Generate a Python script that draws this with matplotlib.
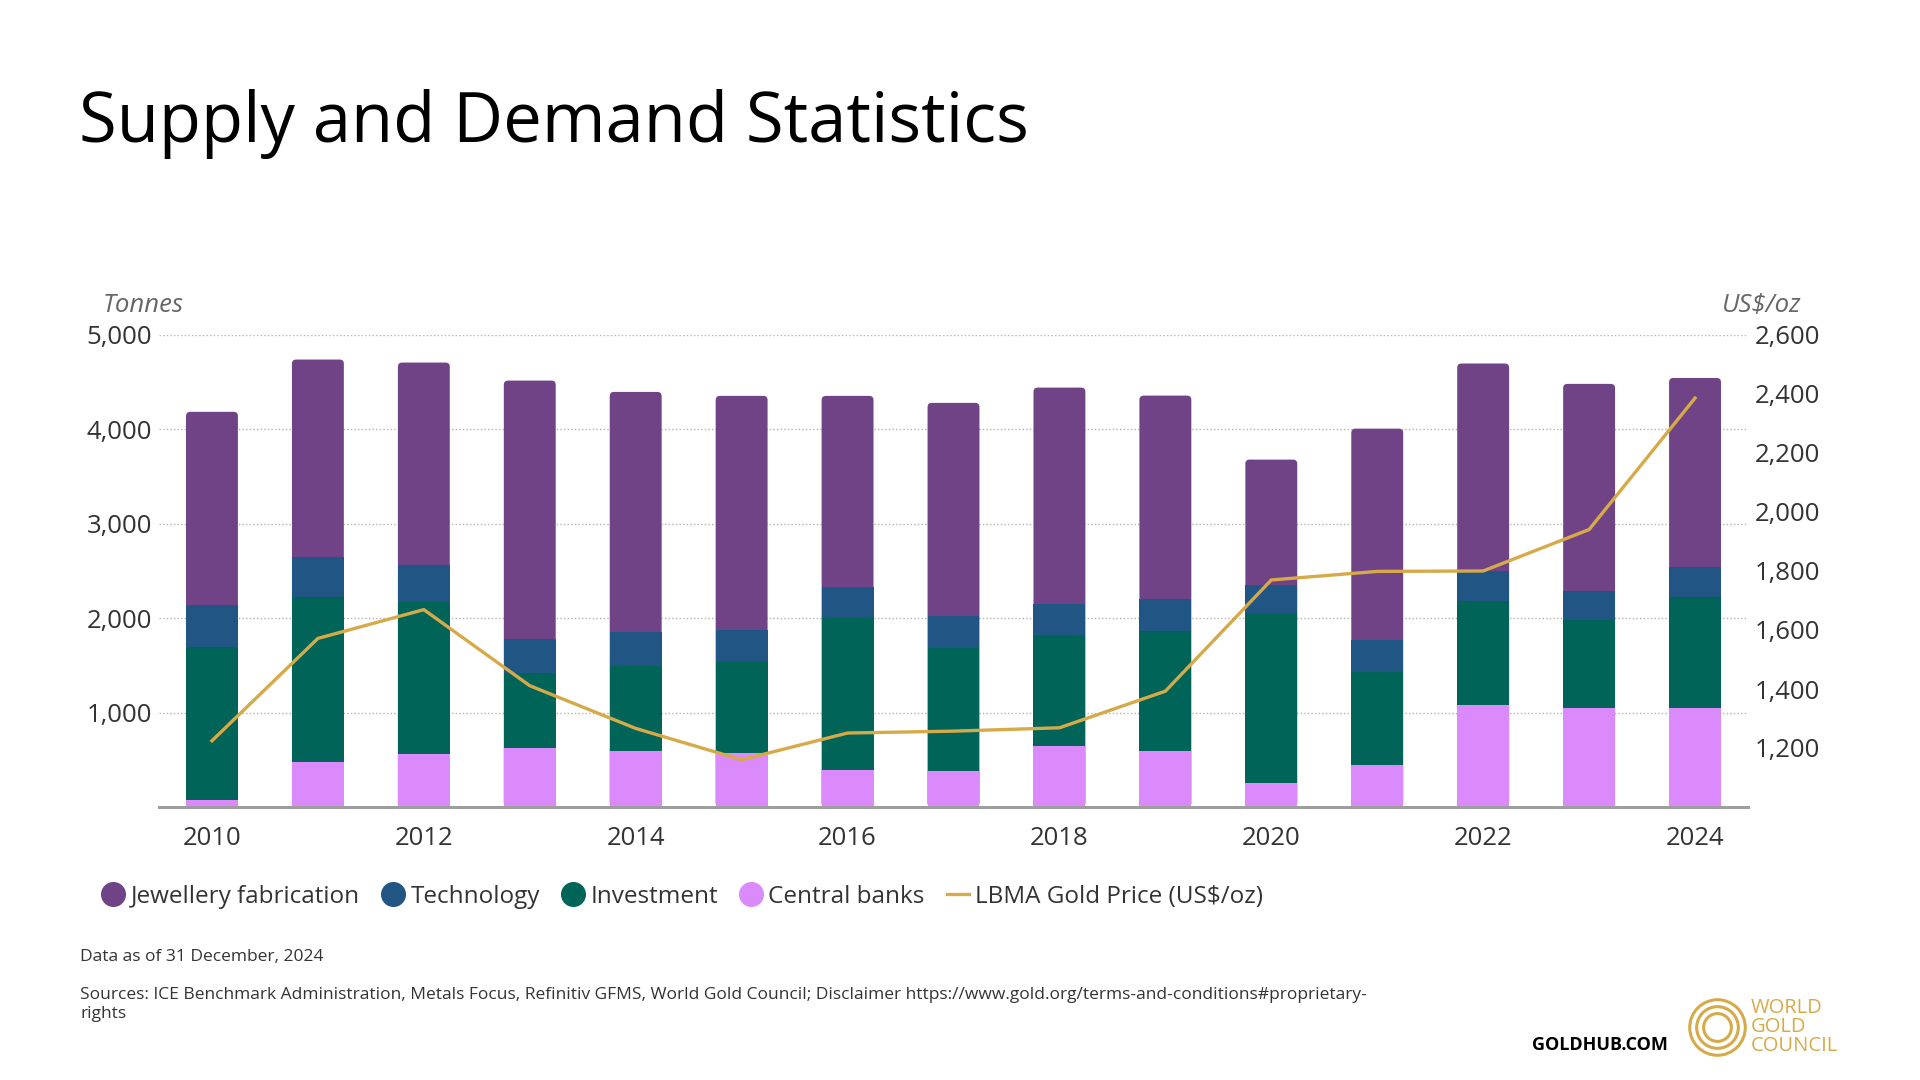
#!/usr/bin/env python3
"""Supply and Demand Statistics: stacked gold demand bars (tonnes) + LBMA gold price line (US$/oz)."""
import matplotlib; matplotlib.use("Agg")
import matplotlib.pyplot as plt
from matplotlib.lines import Line2D
from matplotlib.patches import FancyBboxPatch
from matplotlib.ticker import FuncFormatter

YEARS = list(range(2010, 2025))
JEWELLERY = [2044, 2089, 2142, 2736, 2541, 2478, 2022, 2255, 2290, 2152, 1326, 2237, 2195, 2192, 2001]
TECHNOLOGY = [452, 431, 392, 360, 360, 338, 329, 339, 336, 340, 307, 339, 319, 307, 324]
INVESTMENT = [1613, 1746, 1608, 801, 898, 962, 1614, 1308, 1166, 1268, 1796, 991, 1102, 932, 1175]
CENTRAL_BANKS = [77, 474, 566, 620, 598, 577, 390, 379, 651, 598, 251, 441, 1082, 1051, 1045]
GOLD_PRICE = [1224.5, 1571.5, 1669.0, 1411.2, 1266.4, 1160.1, 1250.8, 1257.1, 1268.5, 1392.6,
              1769.6, 1798.6, 1800.1, 1940.5, 2386.2]
LEFT_TICKS = [1000, 2000, 3000, 4000, 5000]
RIGHT_TICKS = [1200, 1400, 1600, 1800, 2000, 2200, 2400, 2600]
X_TICKS = [2010, 2012, 2014, 2016, 2018, 2020, 2022, 2024]

C_JEW, C_TECH, C_INV, C_CB = "#704386", "#215684", "#006558", "#DB8AFC"
C_GOLD = "#D6AA48"
C_TEXT = "#333333"
FONT = ["Open Sans", "DejaVu Sans"]

plt.rcParams["font.family"] = FONT
W, H = 1920, 1080
fig = plt.figure(figsize=(W / 100, H / 100), dpi=100)
fig.patch.set_facecolor("white")


def fx(px): return px / W
def fy(py): return 1 - py / H


ax = fig.add_axes([fx(159), fy(807), fx(1748) - fx(159), fy(335) - fy(807)])
ax.set_xlim(2009.5, 2024.5); ax.set_ylim(0, 5000)
bw = 0.49

# ---- stacked bars (bottom -> top) ----
b1 = [0] * len(YEARS)
b2 = [a + b for a, b in zip(b1, CENTRAL_BANKS)]
b3 = [a + b for a, b in zip(b2, INVESTMENT)]
b4 = [a + b for a, b in zip(b3, TECHNOLOGY)]
ax.bar(YEARS, CENTRAL_BANKS, bottom=b1, width=bw, color=C_CB, zorder=2)
ax.bar(YEARS, INVESTMENT, bottom=b2, width=bw, color=C_INV, zorder=2)
ax.bar(YEARS, TECHNOLOGY, bottom=b3, width=bw, color=C_TECH, zorder=2)
jb = ax.bar(YEARS, JEWELLERY, bottom=b4, width=bw, color=C_JEW, zorder=1.9)
# rounded top corners: replace jewellery rects with rounded boxes reaching down to 0 (hidden below)
aspect = (5000 / (807 - 335)) / (15 / (1748 - 159))
for r in jb.patches:
    x0, w = r.get_x(), r.get_width(); top = r.get_y() + r.get_height()
    r.set_visible(False)
    ax.add_patch(FancyBboxPatch((x0, 0), w, top, boxstyle="round,pad=0,rounding_size=0.04",
                                mutation_aspect=aspect, fc=C_JEW, ec="none", zorder=1.9))

ax.set_xticks(X_TICKS); ax.set_xticklabels([str(y) for y in X_TICKS])
ax.set_yticks(LEFT_TICKS)
ax.yaxis.set_major_formatter(FuncFormatter(lambda v, p: f"{v:,.0f}"))
ax.tick_params(axis="both", length=0, labelsize=18.5, colors=C_TEXT)
ax.tick_params(axis="x", pad=14); ax.tick_params(axis="y", pad=5)
ax.grid(axis="y", color="#b3b3b3", linestyle=(0, (1, 1.6)), linewidth=1.0)
ax.set_axisbelow(True)
for s in ("top", "right", "left"):
    ax.spines[s].set_visible(False)
ax.spines["bottom"].set_color("#9e9e9e"); ax.spines["bottom"].set_linewidth(2.2)
ax.spines["bottom"].set_zorder(3)

# ---- gold price on the right axis ----
ax2 = ax.twinx()
ax2.set_ylim(1000, 2600)
ax2.plot(YEARS, GOLD_PRICE, color=C_GOLD, lw=2.4, zorder=4, solid_joinstyle="miter")
ax2.set_yticks(RIGHT_TICKS)
ax2.yaxis.set_major_formatter(FuncFormatter(lambda v, p: f"{v:,.0f}"))
ax2.tick_params(axis="y", length=0, labelsize=18.5, colors=C_TEXT, pad=5)
for s in ax2.spines.values():
    s.set_visible(False)

fig.text(fx(103), fy(305), "Tonnes", fontsize=18.5, style="italic", color="#666666", va="center", ha="left")
fig.text(fx(1801), fy(305), "US$/oz", fontsize=18.5, style="italic", color="#666666", va="center", ha="right")

# ---- title ----
fig.text(fx(79), fy(142), "Supply and Demand Statistics", fontsize=49.5, color="black", va="baseline", ha="left")

# ---- legend ----
handles = [Line2D([], [], ls="none", marker="o", ms=17, mfc=c, mec=c) for c in (C_JEW, C_TECH, C_INV, C_CB)]
handles.append(Line2D([], [], color=C_GOLD, lw=2.4))
labels = ["Jewellery fabrication", "Technology", "Investment", "Central banks", "LBMA Gold Price (US$/oz)"]
fig.legend(handles, labels, loc="center left", bbox_to_anchor=(fx(102), fy(897)), ncol=5, frameon=False,
           fontsize=17.5, handlelength=0.9, handletextpad=0.28, columnspacing=0.9, borderpad=0,
           borderaxespad=0, labelcolor=C_TEXT)

# ---- footer ----
fig.text(fx(80), fy(957), "Data as of 31 December, 2024", fontsize=12.5, color=C_TEXT, va="center")
fig.text(fx(80), fy(995), "Sources: ICE Benchmark Administration, Metals Focus, Refinitiv GFMS, World Gold Council; "
         "Disclaimer https://www.gold.org/terms-and-conditions#proprietary-", fontsize=12.5, color=C_TEXT, va="center")
fig.text(fx(80), fy(1014), "rights", fontsize=12.5, color=C_TEXT, va="center")
fig.text(fx(1668), fy(1045), "GOLDHUB.COM", fontsize=13, weight="bold", color="black", va="center", ha="right")

# logo: concentric rings + wordmark
for d in (40, 30, 20):
    fig.add_artist(Line2D([fx(1717)], [fy(1027)], marker="o", ms=d, mfc="none", mec=C_GOLD, mew=2.2,
                          transform=fig.transFigure))
fig.text(fx(1751), fy(1027), "WORLD\nGOLD\nCOUNCIL", fontsize=14.5, color=C_GOLD, va="center", ha="left",
         linespacing=0.92)

fig.savefig("out.png", dpi=100, facecolor="white")
